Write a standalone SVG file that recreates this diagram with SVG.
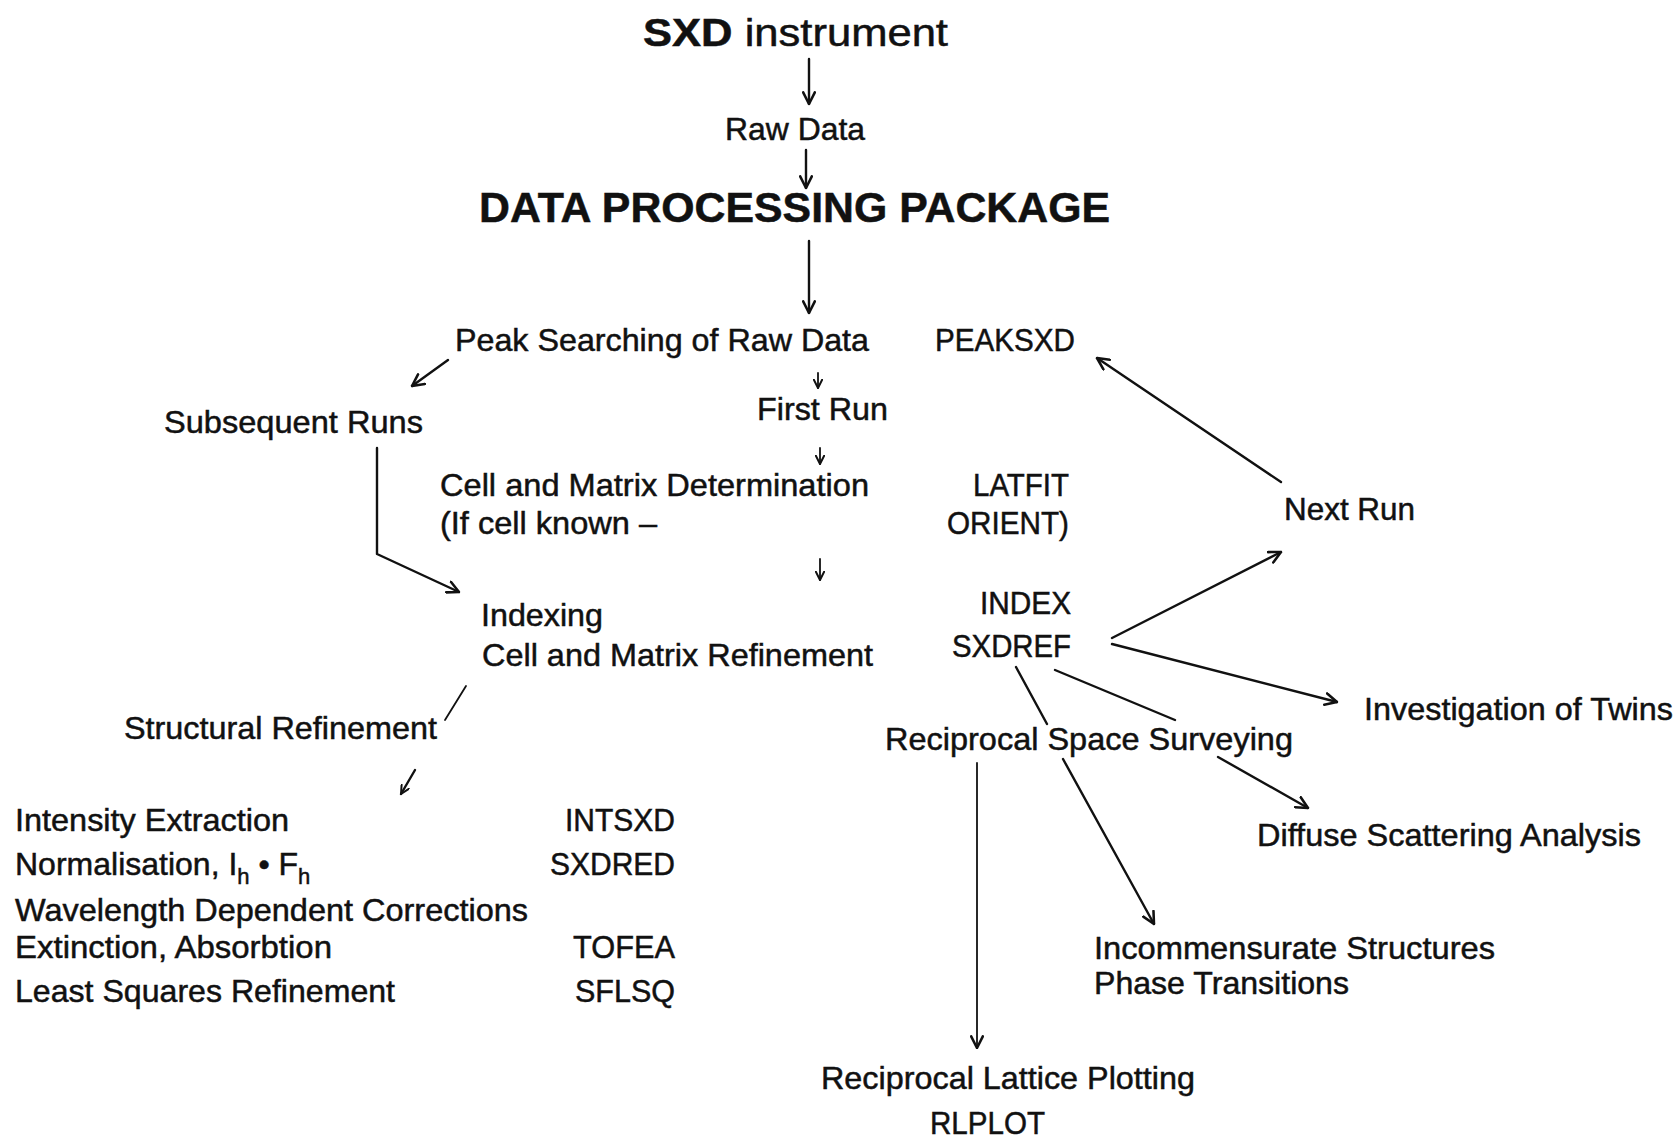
<svg xmlns="http://www.w3.org/2000/svg" width="1680" height="1141" viewBox="0 0 1680 1141">
  <style>
    text { font-family: "Liberation Sans", Arial, sans-serif; font-size: 32px; fill: #111; stroke: #111; stroke-width: 0.5; }
    .title { font-size: 38px; }
    .heavy { font-weight: bold; }
    .pkg { font-size: 42px; font-weight: bold; }
    .sub { font-size: 22px; }
    .conn { fill: none; stroke: #111; stroke-width: 2.4; stroke-linecap: round; stroke-linejoin: round; }
    .thin { stroke-width: 1.8; }
  </style>
  <defs>
    <marker id="head" viewBox="0 0 12 12" refX="11" refY="6" markerWidth="14" markerHeight="14" markerUnits="userSpaceOnUse" orient="auto">
      <path d="M1,1 L11,6 L1,11" fill="none" stroke="#111" stroke-width="2.2" stroke-linecap="round" stroke-linejoin="round"/>
    </marker>
    <marker id="headSmall" viewBox="0 0 12 12" refX="11" refY="6" markerWidth="10" markerHeight="10" markerUnits="userSpaceOnUse" orient="auto">
      <path d="M1,1 L11,6 L1,11" fill="none" stroke="#111" stroke-width="2.4" stroke-linecap="round" stroke-linejoin="round"/>
    </marker>
  </defs>
  <rect width="1680" height="1141" fill="#fff"/>

  <!-- connectors -->
  <g id="connectors">
    <line class="conn" x1="809" y1="59" x2="809" y2="104" marker-end="url(#head)"/>
    <line class="conn" x1="806" y1="150" x2="806" y2="188" marker-end="url(#head)"/>
    <line class="conn" x1="809" y1="241" x2="809" y2="313" marker-end="url(#head)"/>
    <line class="conn" x1="448" y1="360" x2="412" y2="386" marker-end="url(#head)"/>
    <line class="conn thin" x1="818" y1="373" x2="818" y2="388" marker-end="url(#headSmall)"/>
    <line class="conn thin" x1="820" y1="448" x2="820" y2="464" marker-end="url(#headSmall)"/>
    <line class="conn thin" x1="820" y1="559" x2="820" y2="580" marker-end="url(#headSmall)"/>
    <polyline class="conn" points="377,448 377,554 459,592" marker-end="url(#head)"/>
    <line class="conn" x1="1281" y1="482" x2="1097" y2="358" marker-end="url(#head)"/>
    <line class="conn" x1="1112" y1="638" x2="1281" y2="552" marker-end="url(#head)"/>
    <line class="conn" x1="1112" y1="644" x2="1337" y2="702" marker-end="url(#head)"/>
    <line class="conn" x1="1016" y1="667" x2="1047" y2="724"/>
    <line class="conn" x1="1055" y1="670" x2="1175" y2="720"/>
    <line class="conn thin" x1="466" y1="686" x2="445" y2="720"/>
    <line class="conn" x1="415" y1="770" x2="401" y2="794" marker-end="url(#headSmall)"/>
    <line class="conn thin" x1="977" y1="763" x2="977" y2="1048" marker-end="url(#head)"/>
    <line class="conn" x1="1063" y1="759" x2="1154" y2="924" marker-end="url(#head)"/>
    <line class="conn" x1="1218" y1="757" x2="1308" y2="808" marker-end="url(#head)"/>
  </g>

  <!-- nodes -->
  <g id="instrument"><text class="title" x="643" y="46" textLength="305" lengthAdjust="spacingAndGlyphs"><tspan class="heavy">SXD</tspan> instrument</text></g>
  <g id="raw-data"><text x="725" y="140" textLength="140" lengthAdjust="spacingAndGlyphs">Raw Data</text></g>
  <g id="package"><text class="pkg" x="479" y="222" textLength="631" lengthAdjust="spacingAndGlyphs">DATA PROCESSING PACKAGE</text></g>

  <g id="peak-search">
    <text x="455" y="351" textLength="414" lengthAdjust="spacingAndGlyphs">Peak Searching of Raw Data</text>
    <text x="935" y="351" textLength="140" lengthAdjust="spacingAndGlyphs">PEAKSXD</text>
  </g>
  <g id="subsequent-runs"><text x="164" y="433" textLength="259" lengthAdjust="spacingAndGlyphs">Subsequent Runs</text></g>
  <g id="first-run"><text x="757" y="420" textLength="131" lengthAdjust="spacingAndGlyphs">First Run</text></g>

  <g id="cell-determination">
    <text x="440" y="496" textLength="429" lengthAdjust="spacingAndGlyphs">Cell and Matrix Determination</text>
    <text x="440" y="534" textLength="217" lengthAdjust="spacingAndGlyphs">(If cell known –</text>
    <text x="973" y="496" textLength="96" lengthAdjust="spacingAndGlyphs">LATFIT</text>
    <text x="947" y="534" textLength="122" lengthAdjust="spacingAndGlyphs">ORIENT)</text>
  </g>

  <g id="next-run"><text x="1284" y="520" textLength="131" lengthAdjust="spacingAndGlyphs">Next Run</text></g>

  <g id="indexing">
    <text x="481" y="626" textLength="122" lengthAdjust="spacingAndGlyphs">Indexing</text>
    <text x="482" y="666" textLength="391" lengthAdjust="spacingAndGlyphs">Cell and Matrix Refinement</text>
    <text x="980" y="614" textLength="91" lengthAdjust="spacingAndGlyphs">INDEX</text>
    <text x="952" y="657" textLength="119" lengthAdjust="spacingAndGlyphs">SXDREF</text>
  </g>

  <g id="twins"><text x="1364" y="720" textLength="309" lengthAdjust="spacingAndGlyphs">Investigation of Twins</text></g>
  <g id="reciprocal-survey"><text x="885" y="750" textLength="408" lengthAdjust="spacingAndGlyphs">Reciprocal Space Surveying</text></g>
  <g id="structural-refinement"><text x="124" y="739" textLength="313" lengthAdjust="spacingAndGlyphs">Structural Refinement</text></g>

  <g id="refinement-steps">
    <text x="15" y="831" textLength="274" lengthAdjust="spacingAndGlyphs">Intensity Extraction</text>
    <text x="565" y="831" textLength="110" lengthAdjust="spacingAndGlyphs">INTSXD</text>
    <text x="15" y="875">Normalisation, I<tspan class="sub" dy="9">h</tspan><tspan dy="-9"> • F</tspan><tspan class="sub" dy="9">h</tspan></text>
    <text x="550" y="875" textLength="125" lengthAdjust="spacingAndGlyphs">SXDRED</text>
    <text x="15" y="921" textLength="513" lengthAdjust="spacingAndGlyphs">Wavelength Dependent Corrections</text>
    <text x="15" y="958" textLength="317" lengthAdjust="spacingAndGlyphs">Extinction, Absorbtion</text>
    <text x="573" y="958" textLength="102" lengthAdjust="spacingAndGlyphs">TOFEA</text>
    <text x="15" y="1002" textLength="380" lengthAdjust="spacingAndGlyphs">Least Squares Refinement</text>
    <text x="575" y="1002" textLength="100" lengthAdjust="spacingAndGlyphs">SFLSQ</text>
  </g>

  <g id="diffuse"><text x="1257" y="846" textLength="384" lengthAdjust="spacingAndGlyphs">Diffuse Scattering Analysis</text></g>
  <g id="incommensurate">
    <text x="1094" y="959" textLength="401" lengthAdjust="spacingAndGlyphs">Incommensurate Structures</text>
    <text x="1094" y="994" textLength="255" lengthAdjust="spacingAndGlyphs">Phase Transitions</text>
  </g>
  <g id="lattice-plotting">
    <text x="821" y="1089" textLength="374" lengthAdjust="spacingAndGlyphs">Reciprocal Lattice Plotting</text>
    <text x="930" y="1134" textLength="115" lengthAdjust="spacingAndGlyphs">RLPLOT</text>
  </g>
</svg>
